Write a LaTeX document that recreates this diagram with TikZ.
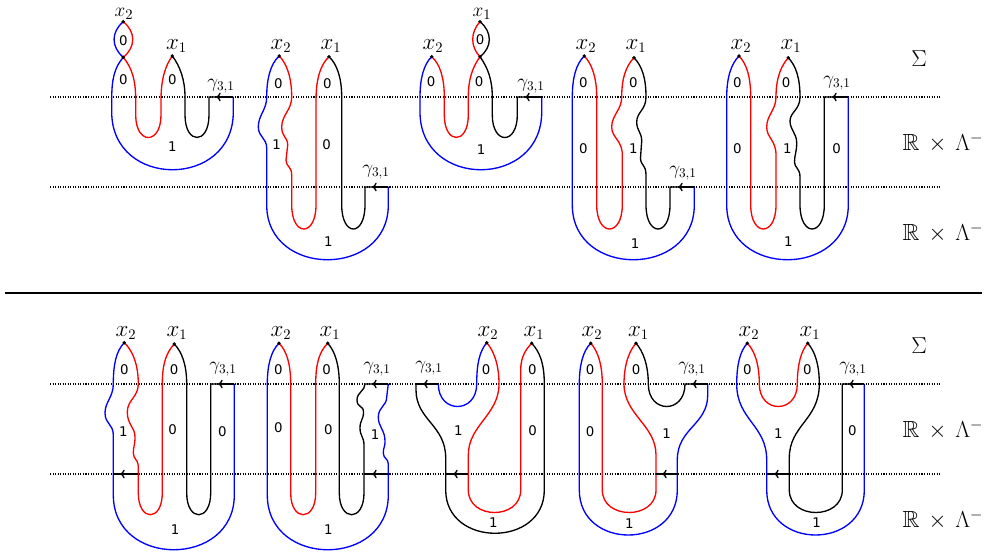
\documentclass[tikz,border=0pt]{standalone}
\usepackage{amssymb}
\usepackage{fontspec}
\setsansfont{DejaVu Sans}
\usetikzlibrary{arrows.meta}
\begin{document}
\begin{tikzpicture}[x=0.75pt,y=-0.75pt,
 strand/.style={line width=1pt},
 bl/.style={strand,draw=blue},
 rd/.style={strand,draw=red},
 bk/.style={strand,draw=black},
 arr/.style={bk,-{To[length=3.5pt,width=6.5pt]}},
 dotline/.style={line width=0.85pt,dash pattern=on 0.8pt off 1.1pt},
 pt/.style={circle,fill=black,inner sep=0pt,minimum size=2.8pt},
 num/.style={font=\sffamily\fontsize{10}{11}\selectfont,inner sep=0pt},
 mlab/.style={font=\fontsize{16}{17}\selectfont,inner sep=0pt},
 toplab/.style={font=\fontsize{15}{16}\selectfont,inner sep=0pt},
 glab/.style={font=\fontsize{14}{15}\selectfont,inner sep=0pt},
 side/.style={font=\fontsize{17.5}{18}\selectfont,inner sep=0pt}]
\useasboundingbox (0,0) rectangle (987,559);

% guide lines
\draw[dotline] (50,97) -- (940,97);
\draw[dotline] (50,187) -- (940,187);
\draw[dotline] (50,384) -- (940,384);
\draw[dotline] (50,474) -- (940,474);
\draw[line width=1pt] (5,293) -- (982,293);

\node[side] (s1) at (919,59) {$\Sigma$};
\node[side] (r1) at (943,143) {$\mathbb{R}\,\times\,\Lambda^-$};
\node[side] (r2) at (943,233) {$\mathbb{R}\,\times\,\Lambda^-$};
\node[side] (s2) at (919,346) {$\Sigma$};
\node[side] (r3) at (943,430) {$\mathbb{R}\,\times\,\Lambda^-$};
\node[side] (r4) at (943,520) {$\mathbb{R}\,\times\,\Lambda^-$};

% ===== T1 =====
\draw[bl] (123.3,21.7) .. controls (111,32) and (111,47) .. (123.3,57.3);
\draw[rd] (123.3,21.7) .. controls (135.9,32) and (135.9,47) .. (123.3,57.3);
\draw[bl] (123.3,57.3) .. controls (114,68) and (111.7,80) .. (111.7,100) -- (111.7,112) .. controls (111.7,189) and (233.3,189) .. (233.3,112) -- (233.3,97);
\draw[rd] (123.3,57.3) .. controls (132,68) and (135.7,80) .. (135.7,100) -- (135.7,115) .. controls (135.7,145) and (161,145) .. (161,115) -- (161,100) .. controls (161,80) and (165,66) .. (172.3,56);
\draw[bk] (172.3,56) .. controls (180,66) and (185,80) .. (185,97) -- (185,115) .. controls (185,145) and (209,145) .. (209,115) -- (209,97) -- (233.3,97);
\draw[arr] (233.3,97) -- (216,97);
\node[pt] (t1a) at (123.3,21.7) {};
\node[pt] (t1c) at (123.3,57.3) {};
\node[pt] (t1b) at (172.3,56) {};
\node[toplab] (t1x2) at (124,13.5) {$x_2$};
\node[mlab] (t1x1) at (176.5,46) {$x_1$};
\node[glab] (t1g) at (221,86) {$\gamma_{3,1}$};
\node[num] (t1n1) at (123.3,41) {0};
\node[num] (t1n2) at (123.3,80) {0};
\node[num] (t1n3) at (172.3,80) {0};
\node[num] (t1n4) at (172.3,147) {1};

% ===== T2 =====
\draw[bl] (279.3,56) .. controls (270,64) and (266.7,80) .. (266.7,97) .. controls (266.7,110) and (258.3,115) .. (258.3,127) .. controls (258.3,137) and (266.7,138) .. (266.7,148) -- (266.7,205) .. controls (266.7,278) and (388.3,278) .. (388.3,205) -- (388.3,187);
\draw[rd] (279.3,56) .. controls (287,64) and (291.7,78) .. (291.7,97) .. controls (291.7,110) and (281.7,115) .. (281.7,127) .. controls (281.7,137) and (287.7,137) .. (287.7,145) .. controls (287.7,152) and (286,153) .. (286,160) .. controls (286,167) and (291.7,166) .. (291.7,175) -- (291.7,205) .. controls (291.7,237) and (316,237) .. (316,205) -- (316,100) .. controls (316,78) and (321,64) .. (329,56.7);
\draw[bk] (329,56.7) .. controls (337,64) and (341.7,78) .. (341.7,97) -- (341.7,205) .. controls (341.7,237) and (365,237) .. (365,205) -- (365,187) -- (388.3,187);
\draw[arr] (388.3,187) -- (372,187);
\node[pt] (t2a) at (279.3,56) {};
\node[pt] (t2b) at (329,56.7) {};
\node[mlab] (t2x2) at (281,46) {$x_2$};
\node[mlab] (t2x1) at (331,46) {$x_1$};
\node[glab] (t2g) at (376,172) {$\gamma_{3,1}$};
\node[num] (t2n1) at (278.3,83.3) {0};
\node[num] (t2n2) at (327.3,83.3) {0};
\node[num] (t2n3) at (276.7,145) {1};
\node[num] (t2n4) at (326.7,145) {0};
\node[num] (t2n5) at (328.3,241.7) {1};

% ===== T3 =====
\draw[rd] (480,21.7) .. controls (470.3,32) and (470.3,47) .. (480,56.7);
\draw[bk] (480,21.7) .. controls (492.4,32) and (492.4,47) .. (480,56.7);
\draw[bl] (431.7,56.7) .. controls (424,64) and (420,78) .. (420,97) -- (420,112) .. controls (420,189) and (541.7,189) .. (541.7,112) -- (541.7,97);
\draw[rd] (431.7,56.7) .. controls (440,64) and (444.3,78) .. (444.3,97) -- (444.3,115) .. controls (444.3,145) and (468.3,145) .. (468.3,115) -- (468.3,97) .. controls (468.3,80) and (472,68) .. (480,56.7);
\draw[bk] (480,56.7) .. controls (488,68) and (492.3,80) .. (492.3,97) -- (492.3,115) .. controls (492.3,145) and (517.3,145) .. (517.3,115) -- (517.3,97) -- (541.7,97);
\draw[arr] (541.7,97) -- (525,97);
\node[pt] (t3a) at (480,21.7) {};
\node[pt] (t3c) at (480,56.7) {};
\node[pt] (t3b) at (431.7,56.7) {};
\node[toplab] (t3x1) at (482,13.5) {$x_1$};
\node[mlab] (t3x2) at (433,46) {$x_2$};
\node[glab] (t3g) at (531,86) {$\gamma_{3,1}$};
\node[num] (t3n1) at (480,39.3) {0};
\node[num] (t3n2) at (431,81.7) {0};
\node[num] (t3n3) at (479,81.7) {0};
\node[num] (t3n4) at (481,150) {1};

% ===== T4 =====
\draw[bl] (584.3,56) .. controls (576,64) and (572.3,78) .. (572.3,97) -- (572.3,205) .. controls (572.3,278) and (694.3,278) .. (694.3,205) -- (694.3,187);
\draw[rd] (584.3,56) .. controls (592,64) and (596.7,78) .. (596.7,97) -- (596.7,205) .. controls (596.7,237) and (622.3,237) .. (622.3,205) -- (622.3,155) .. controls (622.3,140) and (611.7,138) .. (611.7,127) .. controls (611.7,115) and (621.7,110) .. (621.7,97) .. controls (621.7,78) and (626,66) .. (634,57.7);
\draw[bk] (634,57.7) .. controls (642,66) and (646,78) .. (646,97) .. controls (646,110) and (636.7,112) .. (636.7,122) .. controls (636.7,131) and (641.7,132) .. (641.7,141) .. controls (641.7,150) and (640.5,150) .. (640.5,158) .. controls (640.5,166) and (646,164) .. (646,175) -- (646,205) .. controls (646,237) and (670,237) .. (670,205) -- (670,187) -- (694.3,187);
\draw[arr] (694.3,187) -- (678,187);
\node[pt] (t4a) at (584.3,56) {};
\node[pt] (t4b) at (634,57.7) {};
\node[mlab] (t4x2) at (586,46) {$x_2$};
\node[mlab] (t4x1) at (636,46) {$x_1$};
\node[glab] (t4g) at (683,173) {$\gamma_{3,1}$};
\node[num] (t4n1) at (583.3,82.7) {0};
\node[num] (t4n2) at (633.3,82.7) {0};
\node[num] (t4n3) at (583.3,148.3) {0};
\node[num] (t4n4) at (633.3,148.3) {1};
\node[num] (t4n5) at (635,243.3) {1};

% ===== T5 =====
\draw[bl] (739,56) .. controls (731,64) and (726.7,78) .. (726.7,97) -- (726.7,205) .. controls (726.7,278) and (848.3,278) .. (848.3,205) -- (848.3,97);
\draw[rd] (739,56) .. controls (747,64) and (750.7,78) .. (750.7,97) -- (750.7,205) .. controls (750.7,237) and (776,237) .. (776,205) -- (776,155) .. controls (776,140) and (766.7,138) .. (766.7,127) .. controls (766.7,115) and (776,110) .. (776,97) .. controls (776,78) and (781,66) .. (788.3,57.7);
\draw[bk] (788.3,57.7) .. controls (796,66) and (800,78) .. (800,97) .. controls (800,110) and (790,112) .. (790,121) .. controls (790,130) and (796.7,133) .. (796.7,143) .. controls (796.7,152) and (794.5,155) .. (794.5,162) .. controls (794.5,168) and (800,168) .. (800,177) -- (800,205) .. controls (800,237) and (824.3,237) .. (824.3,205) -- (824.3,97) -- (848.3,97);
\draw[arr] (848.3,97) -- (832,97);
\node[pt] (t5a) at (739,56) {};
\node[pt] (t5b) at (788.3,57.7) {};
\node[mlab] (t5x2) at (741,46) {$x_2$};
\node[mlab] (t5x1) at (791,46) {$x_1$};
\node[glab] (t5g) at (837,83) {$\gamma_{3,1}$};
\node[num] (t5n1) at (737.3,82.7) {0};
\node[num] (t5n2) at (786,82.7) {0};
\node[num] (t5n3) at (737.3,148.3) {0};
\node[num] (t5n4) at (787.3,148.3) {1};
\node[num] (t5n5) at (836.7,148.3) {0};
\node[num] (t5n6) at (788.3,241.7) {1};

% ===== B1 =====
\draw[bl] (124.3,342.7) .. controls (116,351) and (113.3,365) .. (113.3,384) .. controls (113.3,397) and (105,402) .. (105,413) .. controls (105,424) and (113.3,424) .. (113.3,435) -- (113.3,495) .. controls (113.3,568) and (234.3,568) .. (234.3,495) -- (234.3,384);
\draw[rd] (124.3,342.7) .. controls (133,351) and (138.3,365) .. (138.3,384) .. controls (138.3,397) and (127.3,400) .. (127.3,412) .. controls (127.3,425) and (135,427) .. (135,437) .. controls (135,445) and (133.3,447) .. (133.3,453) .. controls (133.3,459) and (138.3,460) .. (138.3,466) -- (138.3,493) .. controls (138.3,522) and (162.3,522) .. (162.3,493) -- (162.3,384) .. controls (162.3,362) and (167,352) .. (174.3,344);
\draw[bk] (174.3,344) .. controls (182,352) and (186.7,365) .. (186.7,384) -- (186.7,493) .. controls (186.7,522) and (210.7,522) .. (210.7,493) -- (210.7,384) -- (234.3,384);
\draw[arr] (234.3,384) -- (218,384);
\draw[bk] (113.3,474) -- (138.3,474);
\draw[arr] (138.3,474) -- (120,474);
\node[pt] (b1a) at (124.3,342.7) {};
\node[pt] (b1b) at (174.3,344) {};
\node[mlab] (b1x2) at (126,333) {$x_2$};
\node[mlab] (b1x1) at (177,333) {$x_1$};
\node[glab] (b1g) at (223,369) {$\gamma_{3,1}$};
\node[num] (b1n1) at (124.3,369.3) {0};
\node[num] (b1n2) at (174,369.3) {0};
\node[num] (b1n3) at (123.3,431.7) {1};
\node[num] (b1n4) at (172.7,430) {0};
\node[num] (b1n5) at (222.3,431.7) {0};
\node[num] (b1n6) at (175,529.3) {1};

% ===== B2 =====
\draw[bl] (279,343.3) .. controls (271,351) and (267.3,365) .. (267.3,384) -- (267.3,495) .. controls (267.3,568) and (388.3,568) .. (388.3,495) -- (388.3,464) .. controls (388.3,458) and (383.3,459) .. (383.3,453) .. controls (383.3,447) and (385,448) .. (385,441) .. controls (385,430) and (378.3,427) .. (378.3,417) .. controls (378.3,407) and (386.7,406) .. (386.7,397) .. controls (386.7,390) and (388.3,390) .. (388.3,384);
\draw[rd] (279,343.3) .. controls (287,351) and (290.7,365) .. (290.7,384) -- (290.7,493) .. controls (290.7,522) and (315.7,522) .. (315.7,493) -- (315.7,384) .. controls (315.7,362) and (320,351) .. (327.7,343.3);
\draw[bk] (327.7,343.3) .. controls (335,351) and (339.3,365) .. (339.3,384) -- (339.3,493) .. controls (339.3,522) and (364,522) .. (364,493) -- (364,445) .. controls (364,437) and (360,436) .. (360,428) .. controls (360,420) and (363.5,420) .. (363.5,412) .. controls (363.5,405) and (357,408) .. (357,400) .. controls (357,392) and (365,391) .. (365,384) -- (388.3,384);
\draw[arr] (388.3,384) -- (372,384);
\draw[bk] (364,474) -- (388.3,474);
\draw[arr] (388.3,474) -- (372,474);
\node[pt] (b2a) at (279,343.3) {};
\node[pt] (b2b) at (327.7,343.3) {};
\node[mlab] (b2x2) at (281,333) {$x_2$};
\node[mlab] (b2x1) at (330,333) {$x_1$};
\node[glab] (b2g) at (377,369) {$\gamma_{3,1}$};
\node[num] (b2n1) at (278.3,369.3) {0};
\node[num] (b2n2) at (326.7,369.3) {0};
\node[num] (b2n3) at (278.3,427.3) {0};
\node[num] (b2n4) at (328.3,430) {0};
\node[num] (b2n5) at (375,434.3) {1};
\node[num] (b2n6) at (328.3,529.3) {1};

% ===== B3 =====
\draw[bk] (416,384) -- (416,390) .. controls (416,420) and (445.7,425) .. (445.7,458) -- (445.7,490) .. controls (445.7,547.7) and (544.3,547.7) .. (544.3,490) -- (544.3,384) .. controls (544.3,362) and (539,351) .. (531.7,343.3);
\draw[bk] (416,384) -- (438.3,384);
\draw[arr] (438.3,384) -- (423,384);
\draw[bl] (438.3,384) .. controls (438.3,414) and (476.7,414) .. (476.7,384) .. controls (476.7,362) and (480,351) .. (486.7,342.7);
\draw[rd] (486.7,342.7) .. controls (494,351) and (499,365) .. (499,384) .. controls (499,415) and (468.3,425) .. (468.3,455) -- (468.3,490) .. controls (468.3,520) and (520.7,520) .. (520.7,490) -- (520.7,370) .. controls (520.7,358) and (525,350) .. (531.7,343.3);
\draw[bk] (445.7,474) -- (468.3,474);
\draw[arr] (468.3,474) -- (453,474);
\node[pt] (b3a) at (486.7,342.7) {};
\node[pt] (b3b) at (531.7,343.3) {};
\node[mlab] (b3x2) at (488,333) {$x_2$};
\node[mlab] (b3x1) at (534,333) {$x_1$};
\node[glab] (b3g) at (429,368) {$\gamma_{3,1}$};
\node[num] (b3n1) at (486,369.3) {0};
\node[num] (b3n2) at (532.3,369.3) {0};
\node[num] (b3n3) at (458.3,431) {1};
\node[num] (b3n4) at (532.7,431) {0};
\node[num] (b3n5) at (493.3,522.7) {1};

% ===== B4 =====
\draw[bl] (590.7,343.3) .. controls (583,351) and (579.3,365) .. (579.3,384) -- (579.3,490) .. controls (579.3,550) and (677.3,550) .. (677.3,490) -- (677.3,460) .. controls (677.3,428) and (707.7,425) .. (707.7,395) -- (707.7,384);
\draw[bk] (636,343.3) .. controls (643,351) and (648.3,365) .. (648.3,384) .. controls (648.3,414) and (685,414) .. (685,384) -- (707.7,384);
\draw[arr] (707.7,384) -- (692,384);
\draw[rd] (590.7,343.3) .. controls (598,351) and (602.3,365) .. (602.3,384) -- (602.3,490) .. controls (602.3,520) and (656,520) .. (656,490) -- (656,455) .. controls (656,425) and (624,415) .. (624,384) .. controls (624,365) and (629,351) .. (636,343.3);
\draw[bk] (656,474) -- (677.3,474);
\draw[arr] (677.3,474) -- (662,474);
\node[pt] (b4a) at (590.7,343.3) {};
\node[pt] (b4b) at (636,343.3) {};
\node[mlab] (b4x2) at (592,333) {$x_2$};
\node[mlab] (b4x1) at (638.5,333) {$x_1$};
\node[glab] (b4g) at (692,369) {$\gamma_{3,1}$};
\node[num] (b4n1) at (590,370) {0};
\node[num] (b4n2) at (636,369.3) {0};
\node[num] (b4n3) at (590,431.7) {0};
\node[num] (b4n4) at (666.7,433.3) {1};
\node[num] (b4n5) at (629.3,523.3) {1};

% ===== B5 =====
\draw[bl] (747.3,343.3) .. controls (740,351) and (736.7,365) .. (736.7,384) .. controls (736.7,420) and (766.7,425) .. (766.7,460) -- (766.7,490) .. controls (766.7,550) and (864.3,550) .. (864.3,490) -- (864.3,384);
\draw[rd] (747.3,343.3) .. controls (755,351) and (759.3,365) .. (759.3,384) .. controls (759.3,414) and (797.3,414) .. (797.3,384) .. controls (797.3,365) and (801,351) .. (807.7,343.3);
\draw[bk] (807.7,343.3) .. controls (815,351) and (819.3,365) .. (819.3,384) .. controls (819.3,420) and (789.3,425) .. (789.3,458) -- (789.3,490) .. controls (789.3,520) and (842.3,520) .. (842.3,490) -- (842.3,384) -- (864.3,384);
\draw[arr] (864.3,384) -- (849,384);
\draw[bk] (766.7,474) -- (789.3,474);
\draw[arr] (789.3,474) -- (774,474);
\node[pt] (b5a) at (747.3,343.3) {};
\node[pt] (b5b) at (807.7,343.3) {};
\node[mlab] (b5x2) at (749,333) {$x_2$};
\node[mlab] (b5x1) at (810,333) {$x_1$};
\node[glab] (b5g) at (853,369) {$\gamma_{3,1}$};
\node[num] (b5n1) at (747.3,370) {0};
\node[num] (b5n2) at (807.3,370) {0};
\node[num] (b5n3) at (778.3,433.3) {1};
\node[num] (b5n4) at (852.3,431) {0};
\node[num] (b5n5) at (816.7,522.7) {1};
\end{tikzpicture}
\end{document}
